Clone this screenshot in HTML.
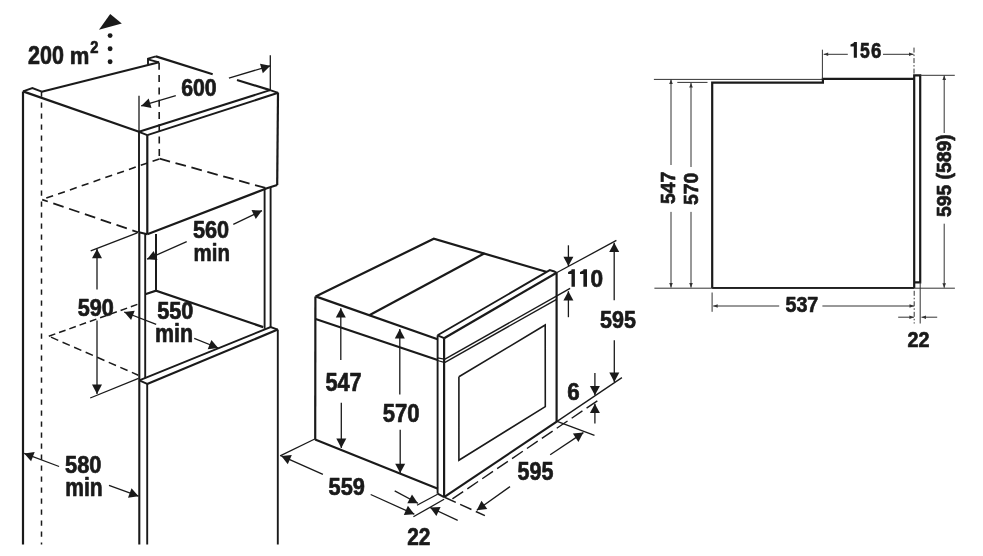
<!DOCTYPE html>
<html><head><meta charset="utf-8"><style>
html,body{margin:0;padding:0;background:#fff;width:983px;height:556px;overflow:hidden}
svg{display:block;will-change:transform}
text{font-family:"Liberation Sans",sans-serif;font-weight:bold}
</style></head><body>
<svg width="983" height="556" viewBox="0 0 983 556">
<path d="M23.0 91.4 L23.0 544.5" stroke="#1a1a1a" stroke-width="2.2" fill="none" stroke-linecap="butt" stroke-linejoin="miter"/>
<path d="M23.0 91.4 L32.4 88.1 L41.7 91.7" stroke="#1a1a1a" stroke-width="1.9" fill="none" stroke-linecap="butt" stroke-linejoin="miter"/>
<path d="M41.7 91.7 L159.1 62.3" stroke="#1a1a1a" stroke-width="2.2" fill="none" stroke-linecap="butt" stroke-linejoin="miter"/>
<path d="M148.0 64.4 L148.0 58.7 L155.9 56.4" stroke="#1a1a1a" stroke-width="1.9" fill="none" stroke-linecap="butt" stroke-linejoin="miter"/>
<path d="M148.0 59.4 L159.1 62.3" stroke="#1a1a1a" stroke-width="1.9" fill="none" stroke-linecap="butt" stroke-linejoin="miter"/>
<path d="M155.9 56.4 L212.7 74.2" stroke="#1a1a1a" stroke-width="2.2" fill="none" stroke-linecap="butt" stroke-linejoin="miter"/>
<path d="M237.0 80.0 L270.1 90.1" stroke="#1a1a1a" stroke-width="2.2" fill="none" stroke-linecap="butt" stroke-linejoin="miter"/>
<path d="M23.0 91.4 L139.0 131.8" stroke="#1a1a1a" stroke-width="2.2" fill="none" stroke-linecap="butt" stroke-linejoin="miter"/>
<path d="M139.0 131.8 L147.3 135.1" stroke="#1a1a1a" stroke-width="1.9" fill="none" stroke-linecap="butt" stroke-linejoin="miter"/>
<path d="M139.0 131.8 L270.1 90.1" stroke="#1a1a1a" stroke-width="2.0" fill="none" stroke-linecap="butt" stroke-linejoin="miter"/>
<path d="M270.1 90.1 L278.2 92.8" stroke="#1a1a1a" stroke-width="1.9" fill="none" stroke-linecap="butt" stroke-linejoin="miter"/>
<path d="M147.3 135.1 L278.2 92.8" stroke="#1a1a1a" stroke-width="2.0" fill="none" stroke-linecap="butt" stroke-linejoin="miter"/>
<path d="M139.0 131.8 L139.0 232.3" stroke="#1a1a1a" stroke-width="1.9" fill="none" stroke-linecap="butt" stroke-linejoin="miter"/>
<path d="M147.3 135.1 L147.3 234.2" stroke="#1a1a1a" stroke-width="2.2" fill="none" stroke-linecap="butt" stroke-linejoin="miter"/>
<path d="M278.0 92.8 L277.2 185.0" stroke="#1a1a1a" stroke-width="2.2" fill="none" stroke-linecap="butt" stroke-linejoin="miter"/>
<path d="M139.0 232.3 L147.3 234.2" stroke="#1a1a1a" stroke-width="1.9" fill="none" stroke-linecap="butt" stroke-linejoin="miter"/>
<path d="M147.3 234.2 L266.9 188.3 L277.2 185.0" stroke="#1a1a1a" stroke-width="2.2" fill="none" stroke-linecap="butt" stroke-linejoin="miter"/>
<path d="M139.3 232.3 L139.3 544.5" stroke="#1a1a1a" stroke-width="2.1" fill="none" stroke-linecap="butt" stroke-linejoin="miter"/>
<path d="M145.2 234.0 L145.2 378.3" stroke="#1a1a1a" stroke-width="1.9" fill="none" stroke-linecap="butt" stroke-linejoin="miter"/>
<path d="M147.2 383.9 L147.2 544.5" stroke="#1a1a1a" stroke-width="1.9" fill="none" stroke-linecap="butt" stroke-linejoin="miter"/>
<path d="M156.0 234.0 L156.0 290.9" stroke="#1a1a1a" stroke-width="2.0" fill="none" stroke-linecap="butt" stroke-linejoin="miter"/>
<path d="M264.6 188.3 L264.6 328.8" stroke="#1a1a1a" stroke-width="1.9" fill="none" stroke-linecap="butt" stroke-linejoin="miter"/>
<path d="M270.6 187.0 L270.6 327.0" stroke="#1a1a1a" stroke-width="1.9" fill="none" stroke-linecap="butt" stroke-linejoin="miter"/>
<path d="M145.2 294.3 L156.0 290.7 L263.2 327.1" stroke="#1a1a1a" stroke-width="2.2" fill="none" stroke-linecap="butt" stroke-linejoin="miter"/>
<path d="M139.3 380.4 L270.6 327.0 L277.8 329.6" stroke="#1a1a1a" stroke-width="1.9" fill="none" stroke-linecap="butt" stroke-linejoin="miter"/>
<path d="M139.3 380.4 L147.2 383.9" stroke="#1a1a1a" stroke-width="1.9" fill="none" stroke-linecap="butt" stroke-linejoin="miter"/>
<path d="M147.2 383.9 L277.8 329.6" stroke="#1a1a1a" stroke-width="2.2" fill="none" stroke-linecap="butt" stroke-linejoin="miter"/>
<path d="M277.8 329.6 L277.8 544.5" stroke="#1a1a1a" stroke-width="1.9" fill="none" stroke-linecap="butt" stroke-linejoin="miter"/>
<path d="M41.5 91.4 L41.5 544.5" stroke="#1a1a1a" stroke-width="1.5" fill="none" stroke-linecap="butt" stroke-linejoin="miter" stroke-dasharray="5.3 5.7"/>
<path d="M159.1 62.8 L159.3 158.9" stroke="#1a1a1a" stroke-width="1.6" fill="none" stroke-linecap="butt" stroke-linejoin="miter" stroke-dasharray="7 5.3"/>
<path d="M42.5 199.4 L159.3 158.9" stroke="#1a1a1a" stroke-width="1.6" fill="none" stroke-linecap="butt" stroke-linejoin="miter" stroke-dasharray="7.2 5.3" stroke-dashoffset="8.5"/>
<path d="M159.6 158.7 L266.7 188.3" stroke="#1a1a1a" stroke-width="1.8" fill="none" stroke-linecap="butt" stroke-linejoin="miter" stroke-dasharray="10.8 5.7"/>
<path d="M42.2 199.6 L138.2 232.3" stroke="#1a1a1a" stroke-width="1.8" fill="none" stroke-linecap="butt" stroke-linejoin="miter" stroke-dasharray="10.9 5.8" stroke-dashoffset="5.0"/>
<path d="M48.8 336.2 L138.5 304.0" stroke="#1a1a1a" stroke-width="1.5" fill="none" stroke-linecap="butt" stroke-linejoin="miter" stroke-dasharray="6.9 4" stroke-dashoffset="0.01"/>
<path d="M48.8 336.2 L138.3 375.2" stroke="#1a1a1a" stroke-width="1.5" fill="none" stroke-linecap="butt" stroke-linejoin="miter" stroke-dasharray="7.9 4.7" stroke-dashoffset="10.2"/>
<text transform="translate(28.12 63.85) scale(0.842 1)" font-size="25.56" fill="#1a1a1a" stroke="#1a1a1a" stroke-width="0.7" stroke-linejoin="round">200</text>
<text transform="translate(69.69 63.85) scale(0.892 1)" font-size="24.72" fill="#1a1a1a" stroke="#1a1a1a" stroke-width="0.7" stroke-linejoin="round">m</text>
<text transform="translate(90.15 52.75) scale(0.915 1)" font-size="16.10" fill="#1a1a1a" stroke="#1a1a1a" stroke-width="0.7" stroke-linejoin="round">2</text>
<path d="M99.0 29.8 L110.2 13.9 L121.8 23.6 Z" fill="#1a1a1a"/>
<circle cx="110.1" cy="35.6" r="2.45" fill="#1a1a1a"/>
<circle cx="110.1" cy="48.8" r="2.45" fill="#1a1a1a"/>
<circle cx="110.1" cy="61.8" r="2.45" fill="#1a1a1a"/>
<path d="M139.0 95.7 L139.0 131.8" stroke="#1a1a1a" stroke-width="1.3" fill="none" stroke-linecap="butt" stroke-linejoin="miter"/>
<path d="M270.3 55.3 L270.3 90.1" stroke="#1a1a1a" stroke-width="1.3" fill="none" stroke-linecap="butt" stroke-linejoin="miter"/>
<path d="M175.8 95.7 L141.2 105.9" stroke="#1a1a1a" stroke-width="1.3" fill="none" stroke-linecap="butt" stroke-linejoin="miter"/>
<path d="M141.2 105.9 L148.7 98.5 L151.5 108.1 Z" fill="#1a1a1a"/>
<path d="M228.9 78.1 L270.3 65.8" stroke="#1a1a1a" stroke-width="1.3" fill="none" stroke-linecap="butt" stroke-linejoin="miter"/>
<path d="M270.3 65.8 L262.8 73.2 L260.0 63.7 Z" fill="#1a1a1a"/>
<text transform="translate(181.18 96.15) scale(0.903 1)" font-size="23.59" fill="#1a1a1a" stroke="#1a1a1a" stroke-width="0.7" stroke-linejoin="round">600</text>
<path d="M233.3 224.3 L262.0 210.6" stroke="#1a1a1a" stroke-width="1.3" fill="none" stroke-linecap="butt" stroke-linejoin="miter"/>
<path d="M262.0 210.6 L255.8 219.1 L251.5 210.1 Z" fill="#1a1a1a"/>
<path d="M186.7 241.6 L147.1 259.2" stroke="#1a1a1a" stroke-width="1.3" fill="none" stroke-linecap="butt" stroke-linejoin="miter"/>
<path d="M147.1 259.2 L153.6 250.9 L157.6 260.0 Z" fill="#1a1a1a"/>
<text transform="translate(192.96 238.25) scale(0.925 1)" font-size="23.45" fill="#1a1a1a" stroke="#1a1a1a" stroke-width="0.7" stroke-linejoin="round">560</text>
<text transform="translate(193.50 260.55) scale(0.829 1)" font-size="24.72" fill="#1a1a1a" stroke="#1a1a1a" stroke-width="0.7" stroke-linejoin="round">min</text>
<path d="M90.7 250.8 L137.3 232.8" stroke="#1a1a1a" stroke-width="1.3" fill="none" stroke-linecap="butt" stroke-linejoin="miter"/>
<path d="M90.2 398.0 L138.5 378.3" stroke="#1a1a1a" stroke-width="1.3" fill="none" stroke-linecap="butt" stroke-linejoin="miter"/>
<path d="M97.0 289.6 L97.0 248.9" stroke="#1a1a1a" stroke-width="1.3" fill="none" stroke-linecap="butt" stroke-linejoin="miter"/>
<path d="M97.0 248.9 L102.0 258.2 L92.0 258.2 Z" fill="#1a1a1a"/>
<path d="M97.0 320.4 L97.0 393.9" stroke="#1a1a1a" stroke-width="1.3" fill="none" stroke-linecap="butt" stroke-linejoin="miter"/>
<path d="M97.0 393.9 L92.0 384.6 L102.0 384.6 Z" fill="#1a1a1a"/>
<text transform="translate(77.66 316.35) scale(0.903 1)" font-size="24.01" fill="#1a1a1a" stroke="#1a1a1a" stroke-width="0.7" stroke-linejoin="round">590</text>
<path d="M156.2 324.4 L124.2 312.0" stroke="#1a1a1a" stroke-width="1.3" fill="none" stroke-linecap="butt" stroke-linejoin="miter"/>
<path d="M124.2 312.0 L134.7 310.7 L131.1 320.0 Z" fill="#1a1a1a"/>
<path d="M194.2 338.4 L218.2 348.0" stroke="#1a1a1a" stroke-width="1.3" fill="none" stroke-linecap="butt" stroke-linejoin="miter"/>
<path d="M218.2 348.0 L207.7 349.2 L211.4 339.9 Z" fill="#1a1a1a"/>
<text transform="translate(157.26 318.55) scale(0.936 1)" font-size="23.16" fill="#1a1a1a" stroke="#1a1a1a" stroke-width="0.7" stroke-linejoin="round">550</text>
<text transform="translate(155.03 342.05) scale(0.836 1)" font-size="25.65" fill="#1a1a1a" stroke="#1a1a1a" stroke-width="0.7" stroke-linejoin="round">min</text>
<path d="M59.1 466.5 L24.2 453.4" stroke="#1a1a1a" stroke-width="1.3" fill="none" stroke-linecap="butt" stroke-linejoin="miter"/>
<path d="M24.2 453.4 L34.7 452.0 L31.1 461.3 Z" fill="#1a1a1a"/>
<path d="M109.0 485.4 L138.5 496.2" stroke="#1a1a1a" stroke-width="1.3" fill="none" stroke-linecap="butt" stroke-linejoin="miter"/>
<path d="M138.5 496.2 L128.0 497.7 L131.5 488.3 Z" fill="#1a1a1a"/>
<text transform="translate(65.05 473.15) scale(0.924 1)" font-size="23.59" fill="#1a1a1a" stroke="#1a1a1a" stroke-width="0.7" stroke-linejoin="round">580</text>
<text transform="translate(65.26 495.65) scale(0.828 1)" font-size="25.46" fill="#1a1a1a" stroke="#1a1a1a" stroke-width="0.7" stroke-linejoin="round">min</text>
<path d="M315.4 296.4 L315.2 439.4" stroke="#1a1a1a" stroke-width="2.2" fill="none" stroke-linecap="butt" stroke-linejoin="miter"/>
<path d="M315.6 296.4 L433.8 238.8 L547.0 272.0" stroke="#1a1a1a" stroke-width="2.2" fill="none" stroke-linecap="butt" stroke-linejoin="miter"/>
<path d="M369.3 315.3 L484.6 253.2" stroke="#1a1a1a" stroke-width="2.2" fill="none" stroke-linecap="butt" stroke-linejoin="miter"/>
<path d="M315.6 296.4 L437.6 339.3" stroke="#1a1a1a" stroke-width="2.2" fill="none" stroke-linecap="butt" stroke-linejoin="miter"/>
<path d="M315.6 319.0 L437.6 360.0" stroke="#1a1a1a" stroke-width="2.2" fill="none" stroke-linecap="butt" stroke-linejoin="miter"/>
<path d="M315.1 439.4 L437.9 488.8" stroke="#1a1a1a" stroke-width="2.2" fill="none" stroke-linecap="butt" stroke-linejoin="miter"/>
<path d="M437.6 335.3 L437.6 493.7" stroke="#1a1a1a" stroke-width="1.9" fill="none" stroke-linecap="butt" stroke-linejoin="miter"/>
<path d="M444.1 338.2 L444.1 497.1" stroke="#1a1a1a" stroke-width="2.2" fill="none" stroke-linecap="butt" stroke-linejoin="miter"/>
<path d="M437.6 335.3 L444.1 338.2" stroke="#1a1a1a" stroke-width="1.9" fill="none" stroke-linecap="butt" stroke-linejoin="miter"/>
<path d="M437.6 335.3 L549.8 270.1 L554.3 271.5 L556.6 272.8" stroke="#1a1a1a" stroke-width="1.9" fill="none" stroke-linecap="butt" stroke-linejoin="miter"/>
<path d="M444.1 338.2 L556.6 272.8" stroke="#1a1a1a" stroke-width="2.2" fill="none" stroke-linecap="butt" stroke-linejoin="miter"/>
<path d="M556.6 272.8 L556.6 421.4" stroke="#1a1a1a" stroke-width="2.2" fill="none" stroke-linecap="butt" stroke-linejoin="miter"/>
<path d="M444.1 359.6 L570.1 288.4" stroke="#1a1a1a" stroke-width="1.4" fill="none" stroke-linecap="butt" stroke-linejoin="miter"/>
<path d="M444.1 362.8 L556.6 299.4" stroke="#1a1a1a" stroke-width="1.4" fill="none" stroke-linecap="butt" stroke-linejoin="miter"/>
<path d="M437.6 357.8 L444.1 359.1" stroke="#1a1a1a" stroke-width="1.2" fill="none" stroke-linecap="butt" stroke-linejoin="miter"/>
<path d="M437.6 360.5 L444.1 362.3" stroke="#1a1a1a" stroke-width="1.2" fill="none" stroke-linecap="butt" stroke-linejoin="miter"/>
<path d="M458.9 376.8 L545.2 325.0 L545.3 406.6 L458.9 460.2 L458.9 376.8" stroke="#1a1a1a" stroke-width="1.6" fill="none" stroke-linecap="butt" stroke-linejoin="miter"/>
<path d="M437.6 493.7 L444.1 497.1" stroke="#1a1a1a" stroke-width="1.9" fill="none" stroke-linecap="butt" stroke-linejoin="miter"/>
<path d="M444.1 497.1 L557.1 421.4" stroke="#1a1a1a" stroke-width="2.2" fill="none" stroke-linecap="butt" stroke-linejoin="miter"/>
<path d="M444.5 497.2 L484.9 515.6" stroke="#1a1a1a" stroke-width="1.5" fill="none" stroke-linecap="butt" stroke-linejoin="miter" stroke-dasharray="12.4 4.8"/>
<path d="M452.4 498.9 L600.5 398.7" stroke="#1a1a1a" stroke-width="1.4" fill="none" stroke-linecap="butt" stroke-linejoin="miter" stroke-dasharray="13 5"/>
<path d="M557.1 421.4 L621.9 377.6" stroke="#1a1a1a" stroke-width="1.3" fill="none" stroke-linecap="butt" stroke-linejoin="miter"/>
<path d="M557.1 421.4 L594.5 435.4" stroke="#1a1a1a" stroke-width="1.3" fill="none" stroke-linecap="butt" stroke-linejoin="miter"/>
<path d="M340.8 360.1 L340.8 308.2" stroke="#1a1a1a" stroke-width="1.3" fill="none" stroke-linecap="butt" stroke-linejoin="miter"/>
<path d="M340.8 308.2 L345.8 317.5 L335.8 317.5 Z" fill="#1a1a1a"/>
<path d="M341.3 402.7 L341.3 447.9" stroke="#1a1a1a" stroke-width="1.3" fill="none" stroke-linecap="butt" stroke-linejoin="miter"/>
<path d="M341.3 447.9 L336.3 438.6 L346.3 438.6 Z" fill="#1a1a1a"/>
<text transform="translate(325.45 390.75) scale(0.850 1)" font-size="25.56" fill="#1a1a1a" stroke="#1a1a1a" stroke-width="0.7" stroke-linejoin="round">547</text>
<path d="M399.8 394.6 L399.8 329.1" stroke="#1a1a1a" stroke-width="1.3" fill="none" stroke-linecap="butt" stroke-linejoin="miter"/>
<path d="M399.8 329.1 L404.8 338.4 L394.8 338.4 Z" fill="#1a1a1a"/>
<path d="M400.2 429.7 L400.2 473.0" stroke="#1a1a1a" stroke-width="1.3" fill="none" stroke-linecap="butt" stroke-linejoin="miter"/>
<path d="M400.2 473.0 L395.2 463.7 L405.2 463.7 Z" fill="#1a1a1a"/>
<text transform="translate(382.64 422.05) scale(0.882 1)" font-size="25.00" fill="#1a1a1a" stroke="#1a1a1a" stroke-width="0.7" stroke-linejoin="round">570</text>
<path d="M314.8 439.0 L280.1 455.9" stroke="#1a1a1a" stroke-width="1.3" fill="none" stroke-linecap="butt" stroke-linejoin="miter"/>
<path d="M322.9 474.3 L281.3 455.9" stroke="#1a1a1a" stroke-width="1.3" fill="none" stroke-linecap="butt" stroke-linejoin="miter"/>
<path d="M281.3 455.9 L291.8 455.1 L287.8 464.2 Z" fill="#1a1a1a"/>
<path d="M370.7 494.5 L414.3 514.2" stroke="#1a1a1a" stroke-width="1.3" fill="none" stroke-linecap="butt" stroke-linejoin="miter"/>
<path d="M414.3 514.2 L403.8 514.9 L407.9 505.8 Z" fill="#1a1a1a"/>
<text transform="translate(328.55 494.85) scale(0.908 1)" font-size="24.01" fill="#1a1a1a" stroke="#1a1a1a" stroke-width="0.7" stroke-linejoin="round">559</text>
<path d="M417.0 505.3 L437.6 494.3" stroke="#1a1a1a" stroke-width="1.3" fill="none" stroke-linecap="butt" stroke-linejoin="miter"/>
<path d="M413.4 516.8 L444.1 499.3" stroke="#1a1a1a" stroke-width="1.3" fill="none" stroke-linecap="butt" stroke-linejoin="miter"/>
<path d="M394.7 490.9 L417.9 503.2" stroke="#1a1a1a" stroke-width="1.3" fill="none" stroke-linecap="butt" stroke-linejoin="miter"/>
<path d="M417.9 503.2 L407.3 503.3 L412.0 494.4 Z" fill="#1a1a1a"/>
<path d="M457.7 520.4 L430.1 507.5" stroke="#1a1a1a" stroke-width="1.3" fill="none" stroke-linecap="butt" stroke-linejoin="miter"/>
<path d="M430.1 507.5 L440.6 506.9 L436.4 516.0 Z" fill="#1a1a1a"/>
<text transform="translate(407.24 544.75) scale(0.881 1)" font-size="23.73" fill="#1a1a1a" stroke="#1a1a1a" stroke-width="0.7" stroke-linejoin="round">22</text>
<path d="M556.6 272.8 L616.4 240.4" stroke="#1a1a1a" stroke-width="1.3" fill="none" stroke-linecap="butt" stroke-linejoin="miter"/>
<path d="M568.4 245.3 L568.4 266.0" stroke="#1a1a1a" stroke-width="1.3" fill="none" stroke-linecap="butt" stroke-linejoin="miter"/>
<path d="M568.4 266.0 L563.4 256.7 L573.4 256.7 Z" fill="#1a1a1a"/>
<path d="M568.4 317.2 L568.4 291.2" stroke="#1a1a1a" stroke-width="1.3" fill="none" stroke-linecap="butt" stroke-linejoin="miter"/>
<path d="M568.4 291.2 L573.4 300.5 L563.4 300.5 Z" fill="#1a1a1a"/>
<path d="M568.10 272.00 L571.50 270.25 L571.50 269.30 L574.90 269.30 L574.90 286.70 L571.50 286.70 L571.50 274.00 L568.10 274.00 Z" fill="#1a1a1a"/>
<path d="M580.00 272.00 L583.40 270.25 L583.40 269.30 L587.00 269.30 L587.00 286.70 L583.40 286.70 L583.40 274.00 L580.00 274.00 Z" fill="#1a1a1a"/>
<text transform="translate(590.54 286.55) scale(0.934 1)" font-size="24.29" fill="#1a1a1a" stroke="#1a1a1a" stroke-width="0.7" stroke-linejoin="round">0</text>
<path d="M614.2 300.3 L614.2 242.8" stroke="#1a1a1a" stroke-width="1.3" fill="none" stroke-linecap="butt" stroke-linejoin="miter"/>
<path d="M614.2 242.8 L619.2 252.1 L609.2 252.1 Z" fill="#1a1a1a"/>
<path d="M614.3 340.3 L614.3 381.9" stroke="#1a1a1a" stroke-width="1.3" fill="none" stroke-linecap="butt" stroke-linejoin="miter"/>
<path d="M614.3 381.9 L609.3 372.6 L619.3 372.6 Z" fill="#1a1a1a"/>
<text transform="translate(600.06 328.15) scale(0.918 1)" font-size="23.45" fill="#1a1a1a" stroke="#1a1a1a" stroke-width="0.7" stroke-linejoin="round">595</text>
<path d="M594.9 373.0 L594.9 395.2" stroke="#1a1a1a" stroke-width="1.3" fill="none" stroke-linecap="butt" stroke-linejoin="miter"/>
<path d="M594.9 395.2 L589.9 385.9 L599.9 385.9 Z" fill="#1a1a1a"/>
<path d="M594.9 423.4 L594.9 403.8" stroke="#1a1a1a" stroke-width="1.3" fill="none" stroke-linecap="butt" stroke-linejoin="miter"/>
<path d="M594.9 403.8 L599.9 413.1 L589.9 413.1 Z" fill="#1a1a1a"/>
<text transform="translate(567.35 399.85) scale(0.924 1)" font-size="24.15" fill="#1a1a1a" stroke="#1a1a1a" stroke-width="0.7" stroke-linejoin="round">6</text>
<path d="M550.2 454.8 L583.4 432.6" stroke="#1a1a1a" stroke-width="1.3" fill="none" stroke-linecap="butt" stroke-linejoin="miter"/>
<path d="M583.4 432.6 L578.4 441.9 L572.9 433.6 Z" fill="#1a1a1a"/>
<path d="M510.0 486.6 L476.8 510.2" stroke="#1a1a1a" stroke-width="1.3" fill="none" stroke-linecap="butt" stroke-linejoin="miter"/>
<path d="M476.8 510.2 L481.5 500.7 L487.3 508.9 Z" fill="#1a1a1a"/>
<text transform="translate(517.56 479.65) scale(0.846 1)" font-size="25.42" fill="#1a1a1a" stroke="#1a1a1a" stroke-width="0.7" stroke-linejoin="round">595</text>
<path d="M653.9 79.4 L822.4 79.4" stroke="#333" stroke-width="1.0" fill="none" stroke-linecap="butt" stroke-linejoin="miter"/>
<path d="M677.3 82.4 L707.5 82.4" stroke="#333" stroke-width="1.0" fill="none" stroke-linecap="butt" stroke-linejoin="miter"/>
<path d="M712.2 287.9 L712.2 82.6 L822.9 82.6 L822.9 78.8 L914.2 78.8" stroke="#1a1a1a" stroke-width="2.2" fill="none" stroke-linecap="butt" stroke-linejoin="miter"/>
<path d="M914.2 288.0 L914.2 75.3 L920.2 75.3 L920.2 282.3 L914.2 282.3" stroke="#1a1a1a" stroke-width="2.2" fill="none" stroke-linecap="butt" stroke-linejoin="miter"/>
<path d="M712.2 288.0 L914.2 288.0" stroke="#1a1a1a" stroke-width="2.2" fill="none" stroke-linecap="butt" stroke-linejoin="miter"/>
<path d="M654.4 288.2 L954.9 288.2" stroke="#333" stroke-width="1.0" fill="none" stroke-linecap="butt" stroke-linejoin="miter"/>
<path d="M920.2 75.3 L954.8 75.3" stroke="#333" stroke-width="1.0" fill="none" stroke-linecap="butt" stroke-linejoin="miter"/>
<path d="M671.0 165.0 L671.0 79.6" stroke="#333" stroke-width="1.0" fill="none" stroke-linecap="butt" stroke-linejoin="miter"/>
<path d="M671.0 79.6 L672.8 84.1 L669.2 84.1 Z" fill="#333"/>
<path d="M671.0 211.9 L671.0 287.6" stroke="#333" stroke-width="1.0" fill="none" stroke-linecap="butt" stroke-linejoin="miter"/>
<path d="M671.0 287.6 L669.2 283.1 L672.8 283.1 Z" fill="#333"/>
<path d="M691.0 167.0 L691.0 82.9" stroke="#333" stroke-width="1.0" fill="none" stroke-linecap="butt" stroke-linejoin="miter"/>
<path d="M691.0 82.9 L692.8 87.4 L689.2 87.4 Z" fill="#333"/>
<path d="M691.0 211.9 L691.0 287.6" stroke="#333" stroke-width="1.0" fill="none" stroke-linecap="butt" stroke-linejoin="miter"/>
<path d="M691.0 287.6 L689.2 283.1 L692.8 283.1 Z" fill="#333"/>
<text transform="translate(675.35 204.07) rotate(-90) scale(0.957 1)" font-size="20.34" fill="#1a1a1a" stroke="#1a1a1a" stroke-width="0.7" stroke-linejoin="round">547</text>
<text transform="translate(698.45 205.07) rotate(-90) scale(0.923 1)" font-size="21.05" fill="#1a1a1a" stroke="#1a1a1a" stroke-width="0.7" stroke-linejoin="round">570</text>
<path d="M944.2 133.0 L944.2 75.5" stroke="#333" stroke-width="1.0" fill="none" stroke-linecap="butt" stroke-linejoin="miter"/>
<path d="M944.2 75.5 L946.0 80.0 L942.4 80.0 Z" fill="#333"/>
<path d="M944.2 223.7 L944.2 287.8" stroke="#333" stroke-width="1.0" fill="none" stroke-linecap="butt" stroke-linejoin="miter"/>
<path d="M944.2 287.8 L942.4 283.3 L946.0 283.3 Z" fill="#333"/>
<text transform="translate(951.25 217.07) rotate(-90) scale(0.972 1)" font-size="19.92" fill="#1a1a1a" stroke="#1a1a1a" stroke-width="0.7" stroke-linejoin="round">595 (589)</text>
<path d="M822.4 49.7 L822.4 79.0" stroke="#333" stroke-width="1.0" fill="none" stroke-linecap="butt" stroke-linejoin="miter"/>
<path d="M914.0 47.6 L914.0 75.0" stroke="#333" stroke-width="1.0" fill="none" stroke-linecap="butt" stroke-linejoin="miter" stroke-dasharray="5 2 1.5 2"/>
<path d="M847.8 54.3 L823.7 54.3" stroke="#333" stroke-width="1.0" fill="none" stroke-linecap="butt" stroke-linejoin="miter"/>
<path d="M823.7 54.3 L828.2 52.5 L828.2 56.1 Z" fill="#333"/>
<path d="M883.0 54.3 L913.5 54.3" stroke="#333" stroke-width="1.0" fill="none" stroke-linecap="butt" stroke-linejoin="miter"/>
<path d="M913.5 54.3 L909.0 56.1 L909.0 52.5 Z" fill="#333"/>
<path d="M850.50 44.50 L853.80 42.94 L853.80 42.10 L856.90 42.10 L856.90 57.70 L853.80 57.70 L853.80 46.50 L850.50 46.50 Z" fill="#1a1a1a"/>
<text transform="translate(859.99 57.85) scale(0.781 1)" font-size="22.46" fill="#1a1a1a" stroke="#1a1a1a" stroke-width="0.7" stroke-linejoin="round">5</text>
<text transform="translate(870.98 57.85) scale(0.828 1)" font-size="22.46" fill="#1a1a1a" stroke="#1a1a1a" stroke-width="0.7" stroke-linejoin="round">6</text>
<path d="M712.1 292.5 L712.1 311.8" stroke="#333" stroke-width="1.0" fill="none" stroke-linecap="butt" stroke-linejoin="miter"/>
<path d="M914.2 290.8 L914.2 323.5" stroke="#333" stroke-width="1.0" fill="none" stroke-linecap="butt" stroke-linejoin="miter" stroke-dasharray="5 2 1.5 2"/>
<path d="M920.2 282.3 L920.2 323.5" stroke="#333" stroke-width="1.0" fill="none" stroke-linecap="butt" stroke-linejoin="miter"/>
<path d="M779.2 306.0 L713.2 306.0" stroke="#333" stroke-width="1.0" fill="none" stroke-linecap="butt" stroke-linejoin="miter"/>
<path d="M713.2 306.0 L717.7 304.2 L717.7 307.8 Z" fill="#333"/>
<path d="M822.4 306.0 L914.0 306.0" stroke="#333" stroke-width="1.0" fill="none" stroke-linecap="butt" stroke-linejoin="miter"/>
<path d="M914.0 306.0 L909.5 307.8 L909.5 304.2 Z" fill="#333"/>
<text transform="translate(785.42 311.65) scale(0.862 1)" font-size="22.88" fill="#1a1a1a" stroke="#1a1a1a" stroke-width="0.7" stroke-linejoin="round">537</text>
<path d="M898.2 317.2 L913.9 317.2" stroke="#333" stroke-width="1.0" fill="none" stroke-linecap="butt" stroke-linejoin="miter"/>
<path d="M913.9 317.2 L909.4 319.0 L909.4 315.4 Z" fill="#333"/>
<path d="M937.2 317.2 L921.5 317.2" stroke="#333" stroke-width="1.0" fill="none" stroke-linecap="butt" stroke-linejoin="miter"/>
<path d="M921.5 317.2 L926.0 315.4 L926.0 319.0 Z" fill="#333"/>
<text transform="translate(907.48 346.65) scale(0.902 1)" font-size="21.89" fill="#1a1a1a" stroke="#1a1a1a" stroke-width="0.7" stroke-linejoin="round">22</text>
</svg>
</body></html>
